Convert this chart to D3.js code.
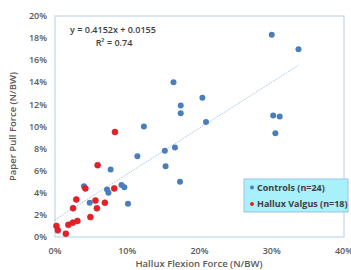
<!DOCTYPE html>
<html>
<head>
<meta charset="utf-8">
<script src="https://cdn.jsdelivr.net/npm/d3@7"></script>
<style>
  body { margin: 0; background: #fff; }
  svg { display: block; font-family: "Open Sans", "Liberation Sans", sans-serif; }
</style>
</head>
<body>
<svg id="chart"></svg>
<script>
// values are fractions of body weight (x = hallux flexion, y = paper pull)
const controlsX = [0.164, 0.204, 0.174, 0.174, 0.123, 0.209, 0.114, 0.152, 0.166, 0.153, 0.077, 0.173,
                   0.092, 0.096, 0.072, 0.074, 0.300, 0.337, 0.302, 0.311, 0.305, 0.040, 0.048, 0.101];
const controlsY = [0.140, 0.126, 0.119, 0.112, 0.100, 0.104, 0.073, 0.078, 0.081, 0.064, 0.061, 0.050,
                   0.047, 0.045, 0.043, 0.040, 0.183, 0.170, 0.110, 0.109, 0.094, 0.046, 0.031, 0.030];
const halluxX = [0.059, 0.082, 0.0295, 0.056, 0.069, 0.025, 0.058, 0.049, 0.031, 0.0245, 0.0185, 0.002,
                 0.004, 0.015, 0.042, 0.083];
const halluxY = [0.065, 0.044, 0.034, 0.033, 0.031, 0.026, 0.026, 0.018, 0.0145, 0.013, 0.011, 0.010,
                 0.006, 0.003, 0.044, 0.095];
const xTicks = [0, 0.1, 0.2, 0.3, 0.4];
const yTicks = [0, 0.02, 0.04, 0.06, 0.08, 0.10, 0.12, 0.14, 0.16, 0.18, 0.20];
const slope = 0.4152, intercept = 0.0155;
const trendRange = [0, 0.337];
const legendLabels = ["Controls (n=24)", "Hallux Valgus (n=18)"];

const width = 351, height = 270;
const margin = {top: 16, right: 7, bottom: 33, left: 55};

const svg = d3.select("#chart").attr("width", width).attr("height", height);

const x = d3.scaleLinear().domain([0, 0.4]).range([margin.left, width - margin.right]);
const y = d3.scaleLinear().domain([0, 0.2]).range([height - margin.bottom, margin.top]);
const pct = d3.format(".0%");

// plot border
svg.append("rect")
    .attr("x", x(0)).attr("y", y(0.2))
    .attr("width", x(0.4) - x(0)).attr("height", y(0) - y(0.2))
    .attr("fill", "none").attr("stroke", "#c3d5ec").attr("stroke-width", 1.2);

// tick labels
svg.append("g").selectAll("text")
    .data(yTicks).join("text")
    .attr("x", margin.left - 8).attr("y", d => y(d)).attr("dy", "0.35em")
    .attr("text-anchor", "end").attr("font-size", 9).attr("font-weight", 600).attr("fill", "#595959")
    .text(pct);

svg.append("g").selectAll("text")
    .data(xTicks).join("text")
    .attr("x", d => x(d)).attr("y", height - 16)
    .attr("text-anchor", "middle").attr("font-size", 9).attr("font-weight", 600).attr("fill", "#595959")
    .text(pct);

// axis titles
svg.append("text")
    .attr("x", 199).attr("y", height - 3)
    .attr("text-anchor", "middle").attr("font-size", 9.5).attr("font-weight", 600).attr("fill", "#595959")
    .text("Hallux Flexion Force (N/BW)");

svg.append("text")
    .attr("transform", `translate(16,${y(0.1)}) rotate(-90)`)
    .attr("text-anchor", "middle").attr("font-size", 9.5).attr("font-weight", 600).attr("fill", "#595959")
    .text("Paper Pull Force (N/BW)");

// trend line
svg.append("line")
    .attr("x1", x(trendRange[0])).attr("y1", y(slope * trendRange[0] + intercept))
    .attr("x2", x(trendRange[1])).attr("y2", y(slope * trendRange[1] + intercept))
    .attr("stroke", "#9dbde3").attr("stroke-width", 1).attr("stroke-dasharray", "1,1");

svg.append("text")
    .attr("x", 113).attr("y", 33)
    .attr("text-anchor", "middle").attr("font-size", 9).attr("font-weight", 600).attr("fill", "#404040")
    .text("y = 0.4152x + 0.0155");
svg.append("text")
    .attr("x", 114).attr("y", 46)
    .attr("text-anchor", "middle").attr("font-size", 9).attr("font-weight", 600).attr("fill", "#404040")
    .text("R² = 0.74");

// points
svg.append("g").selectAll("circle")
    .data(d3.range(controlsX.length)).join("circle")
    .attr("cx", i => x(controlsX[i])).attr("cy", i => y(controlsY[i])).attr("r", 3)
    .attr("fill", "#4a7ebb");

svg.append("g").selectAll("circle")
    .data(d3.range(halluxX.length)).join("circle")
    .attr("cx", i => x(halluxX[i])).attr("cy", i => y(halluxY[i])).attr("r", 3)
    .attr("fill", "#ee1c25").attr("stroke", "#b22a38").attr("stroke-width", 0.6);

// legend
const legend = svg.append("g").attr("transform", "translate(244,179)");
legend.append("rect")
    .attr("width", 104).attr("height", 33)
    .attr("fill", "#a8f0fa").attr("stroke", "#9cc3e5").attr("stroke-width", 1);
const legendColors = ["#4a7ebb", "#ee1c25"];
legend.selectAll("g.item")
    .data(legendLabels).join("g")
    .attr("class", "item")
    .attr("transform", (d, i) => `translate(0,${8.5 + i * 16.5})`)
    .each(function(d, i) {
        const g = d3.select(this);
        g.append("circle").attr("cx", 8).attr("cy", 0).attr("r", 2).attr("fill", legendColors[i]);
        g.append("text").attr("x", 13).attr("y", 0).attr("dy", "0.35em")
            .attr("font-size", 9).attr("font-weight", 700).attr("fill", "#404040")
            .text(d);
    });
</script>
</body>
</html>
